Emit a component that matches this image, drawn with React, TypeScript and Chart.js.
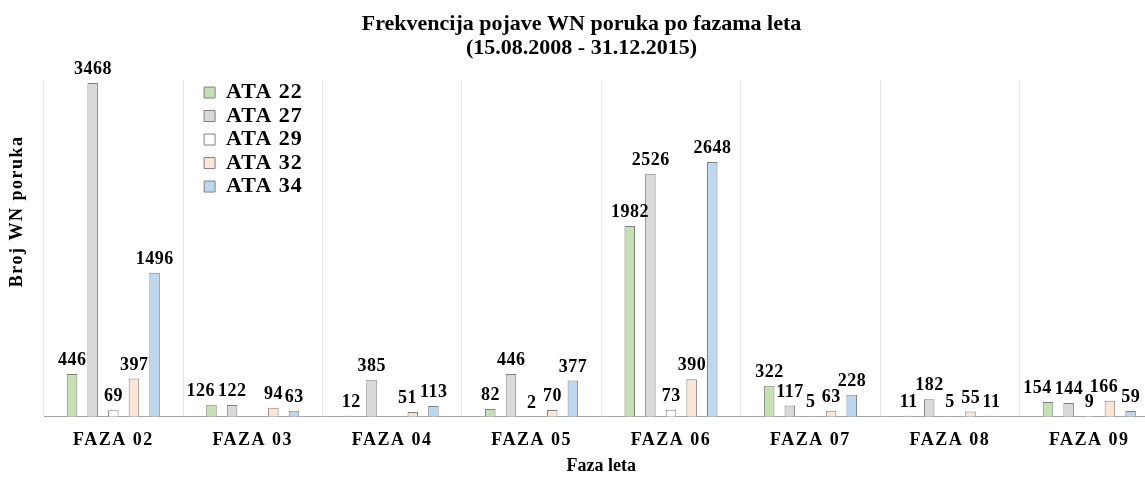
import React, { useEffect, useRef } from 'react';
import { Chart, registerables } from 'chart.js';

Chart.register(...registerables);

const categories = ['FAZA 02', 'FAZA 03', 'FAZA 04', 'FAZA 05', 'FAZA 06', 'FAZA 07', 'FAZA 08', 'FAZA 09'];
const ata22 = [446, 126, 12, 82, 1982, 322, 11, 154];
const ata27 = [3468, 122, 385, 446, 2526, 117, 182, 144];
const ata29 = [69, null, null, 2, 73, 5, 5, 9];
const ata32 = [397, 94, 51, 70, 390, 63, 55, 166];
const ata34 = [1496, 63, 113, 377, 2648, 228, 11, 59];
const seriesLabels = ['ATA 22', 'ATA 27', 'ATA 29', 'ATA 32', 'ATA 34'];
const seriesColors = ['#c5e0b4', '#d9d9d9', '#ffffff', '#fbe5d6', '#bdd7ee'];
const titleLines = ['Frekvencija pojave WN poruka po fazama leta', '(15.08.2008 - 31.12.2015)'];
const xTitle = 'Faza leta';
const yTitle = 'Broj WN poruka';

const FONT = "'Liberation Serif', 'Times New Roman', serif";

const valueLabels = {
  id: 'valueLabels',
  afterDatasetsDraw(chart: any) {
    const ctx = chart.ctx;
    ctx.save();
    ctx.font = `bold 18px ${FONT}`;
    ctx.fillStyle = '#000';
    ctx.textAlign = 'center';
    ctx.textBaseline = 'alphabetic';
    try { ctx.letterSpacing = '0.5px'; } catch (e) {}
    const nCat = chart.data.labels.length;
    const nDs = chart.data.datasets.length;
    for (let j = 0; j < nCat; j++) {
      const items: any[] = [];
      for (let i = 0; i < nDs; i++) {
        const v = chart.data.datasets[i].data[j];
        if (v === null || v === undefined) continue;
        const bar = chart.getDatasetMeta(i).data[j];
        const text = String(v);
        const w = ctx.measureText(text).width;
        items.push({ text, x: bar.x + 0.25, y: bar.y - 9, w });
      }
      // nudge overlapping neighbours apart (right to left)
      for (let k = items.length - 2; k >= 0; k--) {
        const a = items[k];
        const b = items[k + 1];
        const overlap = (a.x + a.w / 2) - (b.x - b.w / 2);
        if (overlap > 0 && Math.abs(a.y - b.y) < 12) {
          a.x -= overlap + 3;
        }
      }
      items.forEach((it) => ctx.fillText(it.text, it.x, it.y));
    }
    ctx.restore();
  },
};

const styleHacks = {
  id: 'styleHacks',
  afterLayout(chart: any) {
    const wrap = (obj: any, key: string, spacing: string, dy = 0) => {
      if (!obj || obj['__w_' + key]) return;
      const orig = obj[key];
      obj[key] = function (...args: any[]) {
        const ctx = chart.ctx;
        ctx.save();
        try { ctx.letterSpacing = spacing; } catch (e) {}
        if (dy) ctx.translate(0, dy);
        const r = orig.apply(this, args);
        ctx.restore();
        return r;
      };
      obj['__w_' + key] = true;
    };
    wrap(chart.scales.x, 'drawLabels', '1.5px');
    wrap(chart.scales.y, 'drawTitle', '1.5px', -37);
    wrap(chart.legend, 'draw', '1px');
    const lg = chart.legend;
    if (lg) {
      const dx = 159;
      lg.left = chart.chartArea.left + dx;
      lg.right = chart.chartArea.right + dx;
      lg.top = chart.chartArea.top;
    }
  },
};

export default function App() {
  const ref = useRef<HTMLCanvasElement | null>(null);

  useEffect(() => {
    if (!ref.current) return;
    const seriesValues = [ata22, ata27, ata29, ata32, ata34];
    const chart = new Chart(ref.current, {
      type: 'bar',
      data: {
        labels: categories,
        datasets: seriesValues.map((vals, i) => ({
          label: seriesLabels[i],
          data: vals,
          backgroundColor: seriesColors[i],
          borderColor: '#808080',
          borderWidth: 1,
          categoryPercentage: 0.74,
          barPercentage: 0.51,
        })),
      },
      options: {
        responsive: false,
        animation: false,
        layout: { padding: { left: 4, right: 3, top: 0, bottom: 0 } },
        plugins: {
          title: {
            display: true,
            text: titleLines,
            color: '#000',
            font: { family: FONT, size: 22, weight: 'bold', lineHeight: 1.06 },
            padding: { top: 13, bottom: 20.4 },
          },
          legend: {
            position: 'chartArea',
            align: 'start',
            labels: {
              boxWidth: 11,
              boxHeight: 11,
              padding: 1.5,
              color: '#000',
              font: { family: FONT, size: 22, weight: 'bold' },
            },
          },
          tooltip: { enabled: false },
        },
        scales: {
          x: {
            grid: { display: true, color: '#e8e8e8', drawTicks: false, offset: true },
            border: { display: true, color: '#a6a6a6', width: 1 },
            ticks: { color: '#000', font: { family: FONT, size: 18, weight: 'bold' }, padding: 12.5 },
            title: {
              display: true,
              text: xTitle,
              color: '#000',
              font: { family: FONT, size: 18, weight: 'bold' },
              padding: { top: -8, bottom: 3 },
            },
          },
          y: {
            min: 0,
            max: 3500,
            grid: { display: false, drawTicks: false },
            border: { display: true, color: '#e8e8e8', width: 1 },
            ticks: { display: false },
            title: {
              display: true,
              text: yTitle,
              color: '#000',
              font: { family: FONT, size: 18, weight: 'bold' },
              padding: { top: 3, bottom: 15 },
            },
          },
        },
      },
      plugins: [valueLabels, styleHacks],
    } as any);
    return () => chart.destroy();
  }, []);

  return (
    <div style={{ position: 'fixed', left: 0, top: 0, width: 1145, height: 480, overflow: 'hidden', background: '#fff' }}>
      <canvas ref={ref} width={1162} height={480} style={{ display: 'block', width: 1162, height: 480 }} />
    </div>
  );
}
